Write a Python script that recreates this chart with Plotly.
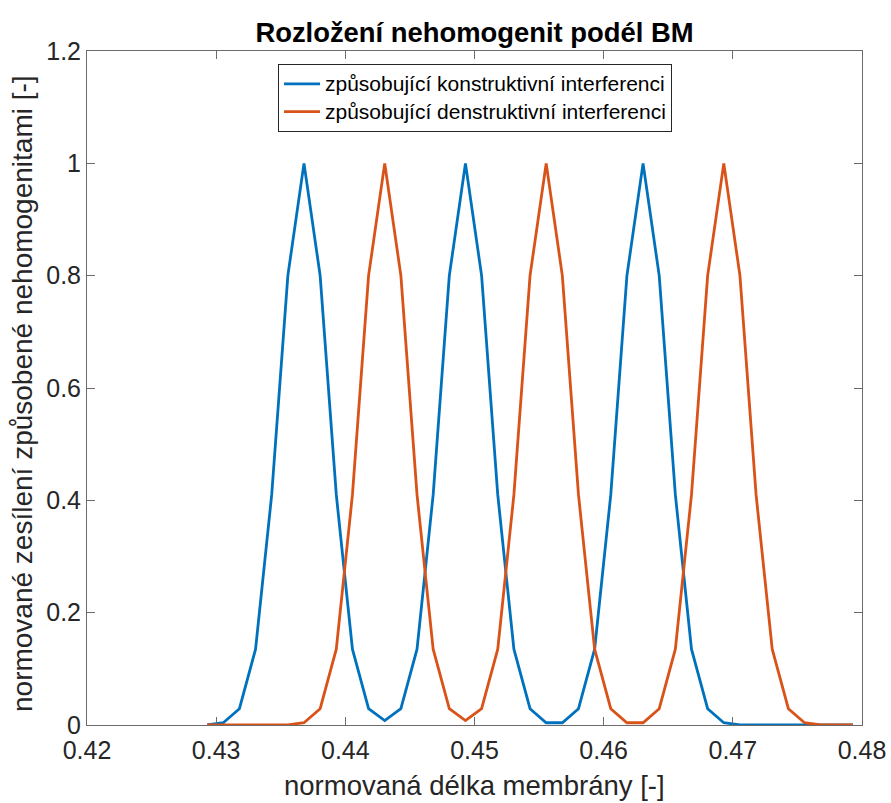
import plotly.graph_objects as go

# normalized membrane length (sample positions)
x_vals = [0.42930, 0.43055, 0.43180, 0.43305, 0.43430, 0.43555, 0.43680, 0.43805,
          0.43930, 0.44055, 0.44180, 0.44305, 0.44430, 0.44555, 0.44680, 0.44805,
          0.44930, 0.45055, 0.45180, 0.45305, 0.45430, 0.45555, 0.45680, 0.45805,
          0.45930, 0.46055, 0.46180, 0.46305, 0.46430, 0.46555, 0.46680, 0.46805,
          0.46930, 0.47055, 0.47180, 0.47305, 0.47430, 0.47555, 0.47680, 0.47805,
          0.47930]

# constructive interference (blue)
y_constr = [0.0003, 0.004, 0.029, 0.135, 0.41, 0.80, 1.00, 0.80,
            0.41, 0.135, 0.029, 0.008, 0.029, 0.135, 0.41, 0.80,
            1.00, 0.80, 0.41, 0.135, 0.029, 0.004, 0.004, 0.029,
            0.135, 0.41, 0.80, 1.00, 0.80, 0.41, 0.135, 0.029,
            0.004, 0.0003, 0.0, 0.0, 0.0, 0.0, 0.0, 0.0,
            0.0]

# destructive interference (orange)
y_destr = [0.0, 0.0, 0.0, 0.0, 0.0, 0.0003, 0.004, 0.029,
           0.135, 0.41, 0.80, 1.00, 0.80, 0.41, 0.135, 0.029,
           0.008, 0.029, 0.135, 0.41, 0.80, 1.00, 0.80, 0.41,
           0.135, 0.029, 0.004, 0.004, 0.029, 0.135, 0.41, 0.80,
           1.00, 0.80, 0.41, 0.135, 0.029, 0.004, 0.0003, 0.0,
           0.0]

series_names = ["způsobující konstruktivní interferenci",
                "způsobující denstruktivní interferenci"]

x_ticks = [0.42, 0.43, 0.44, 0.45, 0.46, 0.47, 0.48]
x_tick_text = ["0.42", "0.43", "0.44", "0.45", "0.46", "0.47", "0.48"]
y_ticks = [0, 0.2, 0.4, 0.6, 0.8, 1.0, 1.2]
y_tick_text = ["0", "0.2", "0.4", "0.6", "0.8", "1", "1.2"]

title_text = "Rozložení nehomogenit podél BM"
x_title = "normovaná délka membrány [-]"
y_title = "normované zesílení způsobené nehomogenitami [-]"

FONT = "Liberation Sans, Arial, Helvetica, sans-serif"
AX = "#262626"
LINE = "#6b6b6b"

W, H = 891, 803
ML, MR, MT, MB = 87, 29, 51, 78
PW = W - ML - MR
PH = H - MT - MB


def px_x(px):
    return (px - ML) / PW


def px_y(py):
    return (H - MB - py) / PH


fig = go.Figure()
fig.add_trace(go.Scatter(x=x_vals, y=y_constr, mode="lines",
                         name="<span style='font-size:21px'>" + series_names[0] + "</span>",
                         line=dict(color="#0072BD", width=2.8)))
fig.add_trace(go.Scatter(x=x_vals, y=y_destr, mode="lines",
                         name="<span style='font-size:21px'>" + series_names[1] + "</span>",
                         line=dict(color="#D95319", width=2.8)))

axis_common = dict(showline=True, linecolor=LINE, linewidth=1, mirror="allticks",
                   ticks="inside", ticklen=8, tickcolor=LINE, tickwidth=1,
                   showgrid=False, zeroline=False, automargin=False,
                   tickfont=dict(family=FONT, size=25, color=AX))

fig.update_layout(
    width=W, height=H,
    margin=dict(l=ML, r=MR, t=MT, b=MB, autoexpand=False),
    paper_bgcolor="white", plot_bgcolor="white",
    font=dict(family=FONT, color=AX),
    title=dict(text="<b>" + title_text + "</b>",
               font=dict(family=FONT, size=27.4, color="black"),
               x=0.5, xref="paper", xanchor="center",
               y=1 - 32 / H, yref="container", yanchor="middle"),
    xaxis=dict(range=[0.42, 0.48], tickvals=x_ticks, ticktext=x_tick_text,
               ticklabelstandoff=3, **axis_common),
    yaxis=dict(range=[0, 1.2], tickvals=y_ticks, ticktext=y_tick_text,
               **axis_common),
    legend=dict(x=px_x(278), y=px_y(64), xanchor="left", yanchor="top",
                bgcolor="white", bordercolor=AX, borderwidth=1,
                font=dict(family=FONT, size=19, color="black"),
                itemwidth=36),
    showlegend=True,
    annotations=[
        dict(text=x_title, xref="paper", yref="paper", x=0.5, y=px_y(785),
             xanchor="center", yanchor="middle", showarrow=False,
             font=dict(family=FONT, size=27.5, color=AX)),
        dict(text=y_title, xref="paper", yref="paper", x=px_x(22), y=px_y(394),
             xanchor="center", yanchor="middle", showarrow=False, textangle=-90,
             font=dict(family=FONT, size=28, color=AX)),
    ],
)

fig.write_html("out.html")
